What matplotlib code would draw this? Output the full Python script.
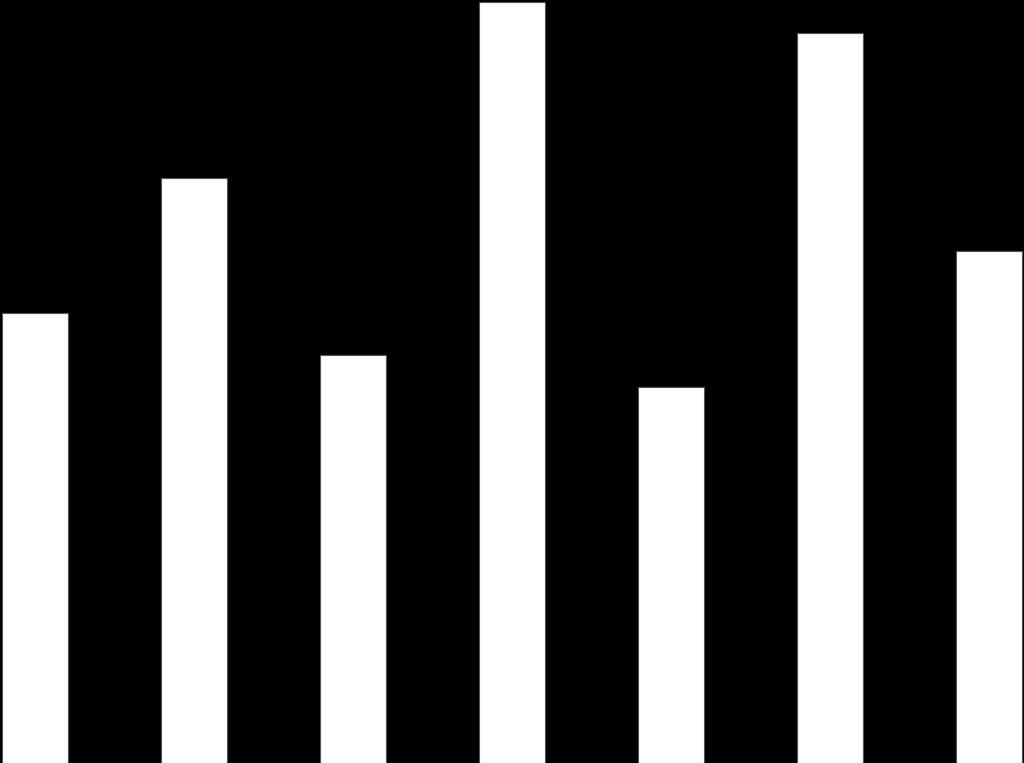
import matplotlib
matplotlib.use("Agg")
import matplotlib.pyplot as plt

# bar heights
categories = ["A", "B", "C", "D", "E", "F", "G"]
values = [44.9, 58.4, 40.7, 76.0, 37.6, 72.9, 51.1]

fig = plt.figure(figsize=(10.24, 7.63), dpi=100, facecolor="black")
ax = fig.add_axes([0, 0, 1, 1])
ax.set_facecolor("black")

x = range(len(categories))
ax.bar(x, values, width=0.415, color="white", edgecolor="#555555", linewidth=0.8)

ax.set_xlim(-0.22, 6.22)
ax.set_ylim(0, 76.2)
ax.axis("off")

fig.savefig("out.png", dpi=100, facecolor="black")
